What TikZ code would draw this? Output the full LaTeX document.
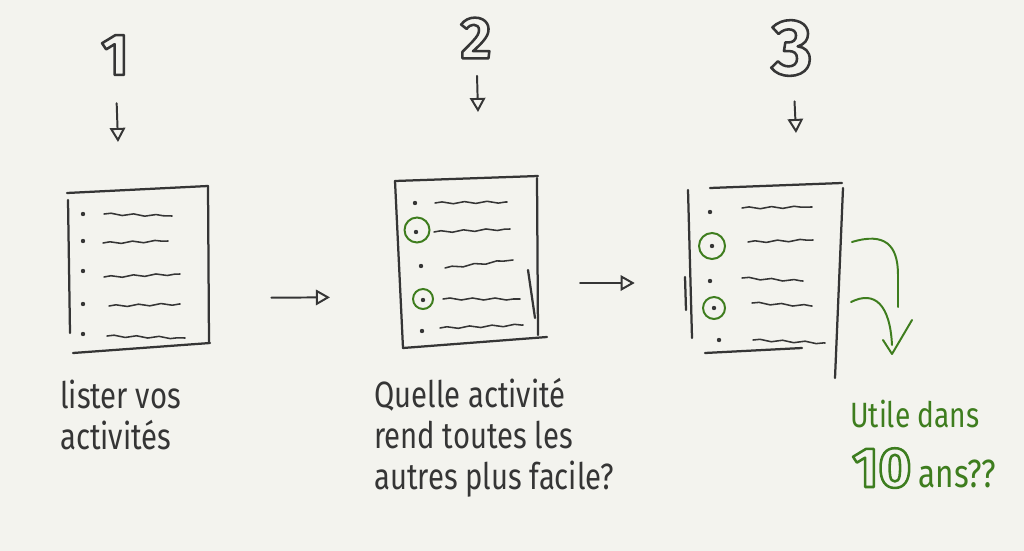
\documentclass[tikz,border=0pt]{standalone}
\usepackage{fontspec}
\setmainfont{Fira Sans}[FakeStretch=0.8]
\newfontfamily\digitfont{Fira Sans}
\usetikzlibrary{arrows.meta,decorations.pathmorphing}

\definecolor{paper}{HTML}{F3F3EE}
\definecolor{ink}{HTML}{353535}
\definecolor{leaf}{HTML}{3E7D1E}

% hohle Ziffern (nur Kontur)
\newcommand\hollow[2]{\special{pdf:code q 1 Tr 1.8 w 1 j #1 RG}#2\special{pdf:code Q}}

\tikzset{
  edge/.style={ink, line width=1.6pt, line cap=round},
  scribble/.style={ink, line width=1.1pt, line cap=round, decorate,
    decoration={snake, amplitude=0.7pt, segment length=16pt}},
  pick/.style={leaf, line width=1.4pt},
  flow/.style={ink, line width=1.4pt, line cap=round,
    -{Triangle[open, length=10pt, width=11pt, line width=1.4pt]}},
  page/.style={inner sep=0pt, minimum width=3.5cm, minimum height=4cm},
  digit/.style={inner sep=0pt, text=ink, font=\digitfont\bfseries\fontsize{42}{42}\selectfont},
  hand/.style={inner sep=0pt, text=ink, align=left, anchor=north west,
    font=\fontsize{26}{29}\selectfont},
}

\begin{document}
\begin{tikzpicture}[x=0.025cm, y=-0.025cm]
  % Hintergrund
  \fill[paper] (0,0) rectangle (1024,551);
  \useasboundingbox (0,0) rectangle (1024,551);

  % Nummern
  \node[digit] (n1) at (115,55) {\hollow{0.21 0.21 0.21}{1}};
  \node[digit] (n2) at (476,38) {\hollow{0.21 0.21 0.21}{2}};
  \node[digit, font=\digitfont\bfseries\fontsize{56}{56}\selectfont] (n3) at (792,48) {\hollow{0.21 0.21 0.21}{3}};
  \coordinate (d1) at (118,142);
  \coordinate (d2) at (478,112);
  \coordinate (d3) at (796,133);
  \draw[flow, shorten <=0.7cm] (n1) -- (d1);
  \draw[flow, shorten <=0.43cm] (n2) -- (d2);
  \draw[flow, shorten <=0.63cm] (n3) -- (d3);

  % Blatt 1
  \node[page] (p1) at (139,268) {};
  \draw[edge] (67,193) -- (208,186);
  \draw[edge] (208,186) -- (209,343);
  \draw[edge] (73,353) -- (210,343);
  \draw[edge] (68,200) -- (70,333);
  \foreach \y in {214,241,271,304,334}
    \fill[ink] (83,\y) circle (2.2);
  \draw[scribble] (104,214) -- (172,216);
  \draw[scribble] (103,243) -- (168,241);
  \draw[scribble] (104,277) -- (180,274);
  \draw[scribble] (109,306) -- (180,304);
  \draw[scribble] (107,336) -- (185,338);

  % Blatt 2
  \node[page, minimum width=3.575cm] (p2) at (467,262) {};
  \draw[edge] (395,181) -- (538,176);
  \draw[edge] (537,178) -- (538,335);
  \draw[edge] (528,270) -- (535,318);
  \draw[edge] (403,348) -- (547,337);
  \draw[edge] (395,181) -- (403,348);
  \foreach \x/\y in {415/203,416/232,421/266,423/300,422/331}
    \fill[ink] (\x,\y) circle (2.2);
  \draw[scribble] (435,203) -- (507,202);
  \draw[scribble] (434,232) -- (510,229);
  \draw[scribble] (445,268) -- (513,260);
  \draw[scribble] (443,299) -- (520,299);
  \draw[scribble] (440,328) -- (523,325);
  \draw[pick] (417,230) circle (12.5);
  \draw[pick] (423,299) circle (10);

  % Blatt 3
  \node[page, minimum width=3.9cm, minimum height=4.75cm] (p3) at (765,280) {};
  \draw[edge] (710,188) -- (842,183);
  \draw[edge] (688,190) -- (692,338);
  \draw[edge] (685,277) -- (686,310);
  \draw[edge] (843,188) -- (835,378);
  \draw[edge] (705,353) -- (802,348);
  \foreach \x/\y in {710/212,712/246,710/281,714/308,719/340}
    \fill[ink] (\x,\y) circle (2.2);
  \draw[scribble] (742,208) -- (812,207);
  \draw[scribble] (748,242) -- (813,240);
  \draw[scribble] (742,278) -- (803,281);
  \draw[scribble] (752,303) -- (812,306);
  \draw[scribble] (753,340) -- (825,343);
  \draw[pick] (712,246) circle (13);
  \draw[pick] (714,308) circle (11);

  % gruene Pfeile
  \draw[pick, line cap=round] (852,242) .. controls (885,232) and (898,245) .. (898,275) -- (898,307);
  \draw[pick, line cap=round] (851,302) .. controls (875,290) and (890,305) .. (892,345);
  \draw[pick, line cap=round, line join=round] (883,340) -- (892,354) -- (912,320);

  % Pfeile zwischen den Blaettern
  \draw[flow, shorten <=1.55cm, shorten >=1.63cm]
    ([yshift=-0.75cm]p1.east) -- ([yshift=-0.875cm]p2.west);
  \draw[flow, shorten <=1.03cm, shorten >=1.3cm]
    ([yshift=-0.525cm]p2.east) -- ([yshift=-0.075cm]p3.west);

  % Texte
  \node[hand] (t1) at (60,380) {lister vos\\activités};
  \node[hand] (t2) at (374,378) {Quelle activité\\rend toutes les\\autres plus facile?};
  \node[hand, text=leaf, anchor=base west, font=\fontsize{25}{27}\selectfont]
    (t3) at (850,427) {Utile dans};
  \node[inner sep=0pt, anchor=base west, text=leaf, font=\digitfont\bfseries\fontsize{40}{40}\selectfont]
    (t4) at (852,487) {\hollow{0.24 0.49 0.12}{10}};
  \node[inner sep=0pt, anchor=base west, text=leaf, font=\fontsize{28}{30}\selectfont]
    (t5) at (t4.base east) {\,ans??};
\end{tikzpicture}
\end{document}
